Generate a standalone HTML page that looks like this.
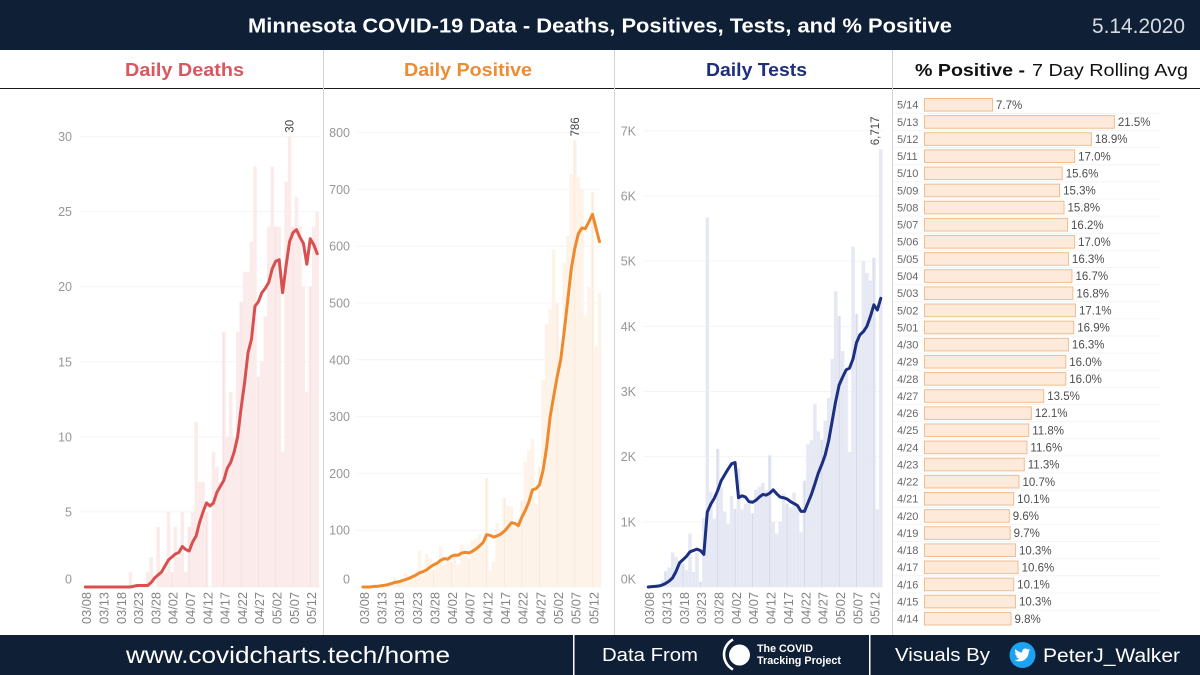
<!DOCTYPE html>
<html lang="en">
<head>
<meta charset="utf-8">
<title>Minnesota COVID-19 Data</title>
<style>
html,body{margin:0;padding:0;width:1200px;height:675px;overflow:hidden;background:#fff;}
svg{display:block;font-family:"Liberation Sans",sans-serif;}
</style>
</head>
<body>
<svg id="root" width="1200" height="675" viewBox="0 0 1200 675" xmlns="http://www.w3.org/2000/svg">
  <rect x="0" y="0" width="1200" height="675" fill="#ffffff"/>
  <g id="charts"></g>
  <rect x="0" y="0" width="1200" height="50" fill="#0e1f36"/>
  <text x="248" y="32.500" font-size="20" font-weight="bold" fill="#ffffff" textLength="704" lengthAdjust="spacingAndGlyphs">Minnesota COVID-19 Data - Deaths, Positives, Tests, and % Positive</text>
  <text x="1092" y="33" font-size="21" fill="#d8dce2" textLength="93" lengthAdjust="spacingAndGlyphs">5.14.2020</text>

  <text x="125" y="76" font-size="18" font-weight="bold" fill="#d9585f" textLength="119" lengthAdjust="spacingAndGlyphs">Daily Deaths</text>
  <text x="404" y="76" font-size="18" font-weight="bold" fill="#ee8c36" textLength="128" lengthAdjust="spacingAndGlyphs">Daily Positive</text>
  <text x="706" y="76" font-size="18" font-weight="bold" fill="#1e2f7f" textLength="101" lengthAdjust="spacingAndGlyphs">Daily Tests</text>
  <text x="915" y="76" font-size="17.5" font-weight="bold" fill="#111111" textLength="110" lengthAdjust="spacingAndGlyphs">% Positive -</text>
  <text x="1032" y="76" font-size="17.5" fill="#111111" textLength="156" lengthAdjust="spacingAndGlyphs">7 Day Rolling Avg</text>
  <rect x="0" y="88" width="1200" height="1" fill="#1a1a1a"/>
  <rect x="323" y="50" width="1" height="585" fill="#d4d4d4"/>
  <rect x="614" y="50" width="1" height="585" fill="#d4d4d4"/>
  <rect x="892" y="50" width="1" height="585" fill="#d4d4d4"/>

  <rect x="0" y="635" width="1200" height="40" fill="#0e1f36"/>
  <text x="126" y="663" font-size="23" fill="#ffffff" textLength="324" lengthAdjust="spacingAndGlyphs">www.covidcharts.tech/home</text>
  <rect x="573" y="635" width="1.5" height="40" fill="#ffffff"/>
  <text x="602" y="661" font-size="18" fill="#ffffff" textLength="96" lengthAdjust="spacingAndGlyphs">Data From</text>
  <g>
    <path d="M733 639.500 A17 17 0 0 0 733 669.500" fill="none" stroke="#ffffff" stroke-width="2.600"/>
    <circle cx="739.500" cy="655" r="10.500" fill="#ffffff"/>
    <text x="757" y="652" font-size="11" font-weight="bold" fill="#ffffff" textLength="56" lengthAdjust="spacingAndGlyphs">The COVID</text>
    <text x="757" y="664" font-size="11" font-weight="bold" fill="#ffffff" textLength="84" lengthAdjust="spacingAndGlyphs">Tracking Project</text>
  </g>
  <rect x="869" y="635" width="1.5" height="40" fill="#ffffff"/>
  <text x="895" y="661" font-size="18" fill="#ffffff" textLength="95" lengthAdjust="spacingAndGlyphs">Visuals By</text>
  <g>
    <circle cx="1022.500" cy="655" r="13" fill="#1da1f2"/>
    <path transform="translate(1014 646.500) scale(0.71)" fill="#ffffff" d="M23 4.900c-.8.4-1.700.6-2.600.7.9-.6 1.600-1.400 2-2.500-.9.5-1.900.9-2.900 1.100C18.600 3.300 17.400 2.800 16.100 2.800c-2.500 0-4.600 2-4.600 4.600 0 .4 0 .7.1 1C7.700 8.200 4.400 6.400 2.100 3.600c-.4.7-.6 1.500-.6 2.300 0 1.600.8 3 2 3.800-.7 0-1.400-.2-2.100-.6v.1c0 2.200 1.600 4.100 3.700 4.500-.4.1-.8.2-1.200.2-.3 0-.6 0-.9-.1.6 1.800 2.300 3.200 4.300 3.200-1.600 1.200-3.600 2-5.700 2-.4 0-.7 0-1.100-.1 2 1.300 4.500 2 7.100 2 8.500 0 13.100-7 13.100-13.100v-.6c.9-.6 1.700-1.500 2.300-2.400z"/>
  </g>
  <text x="1043" y="662" font-size="19" fill="#ffffff" textLength="137" lengthAdjust="spacingAndGlyphs">PeterJ_Walker</text>
</svg>
<script>
// X-axis tick labels, one every 5 days starting 03/08
const dateTickLabels = ['03/08','03/13','03/18','03/23','03/28','04/02','04/07','04/12','04/17','04/22','04/27','05/02','05/07','05/12'];
const dateTickStep = 5;

// Daily deaths (bars) and 7-day average (line), 03/08 .. 05/14
const deathsDaily = [0,0,0,0,0,0,0,0,0,0,0,0,0,1,0,0,0,0,1,2,0,4,1,1,5,1,4,2,5,1,4,5,11,7,7,5,0,9,8,7,17,10,13,10,17,19,21,21,23,28,14,15,18,24,28,24,24,9,27,30,24,26,24,20,13,20,24,25];
const deathsAvg = [0,0,0,0,0,0,0,0,0,0,0,0,0,0,0.05,0.1,0.1,0.1,0.1,0.3,0.6,0.8,1,1.4,1.8,2,2.2,2.3,2.7,2.5,2.4,3,3.4,4.3,5,5.6,5.4,5.6,6.3,6.7,7.1,7.9,8.3,9,10,11.9,13.6,15.6,16.5,18.7,19,19.6,19.9,20.3,21.2,21.7,21.8,19.6,21.4,23,23.6,23.8,23.3,22.9,21.5,23.2,22.8,22.2];
const deathsTicks = [0,5,10,15,20,25,30];
const deathsTickLabels = ['0','5','10','15','20','25','30'];

// Daily positive (bars) and 7-day average (line)
const positiveDaily = [1,0,1,0,2,2,3,5,7,18,12,14,25,20,22,25,64,20,58,50,30,40,72,40,55,45,60,40,75,55,50,82,85,93,70,192,29,44,113,100,157,143,142,105,120,152,220,242,260,147,212,364,463,490,594,500,400,570,618,727,786,722,700,478,528,695,423,518];
const positiveAvg = [0,0,0,1,1,2,3,4,6,8,9,11,13,15,18,21,25,27,30,35,39,42,47,50,49,54,56,56,60,61,60,63,67,72,78,92,91,88,90,93,98,105,113,112,108,123,135,150,171,173,180,205,245,299,335,370,400,450,505,560,596,622,632,631,643,656,632,608];
const positiveTicks = [0,100,200,300,400,500,600,700,800];
const positiveTickLabels = ['0','100','200','300','400','500','600','700','800'];

// Daily tests (bars) and 7-day average (line)
const testsDaily = [5,10,20,40,100,240,300,530,460,400,360,260,820,230,530,80,1060,5670,1460,1050,2120,1530,1160,970,1400,1200,1820,1190,1280,1280,1130,1490,1540,1600,1480,2020,1000,820,1000,1430,1280,1220,1450,1260,840,1630,2190,2250,2810,2390,2260,2550,2900,3500,4540,4160,3620,3300,2070,5220,4190,3800,5000,4820,4700,5050,1190,6717];
const testsAvg = [0,5,10,15,30,55,90,140,240,370,420,470,540,560,580,560,500,1150,1270,1360,1480,1630,1720,1810,1890,1910,1370,1400,1380,1310,1300,1330,1380,1420,1410,1440,1490,1430,1380,1370,1350,1310,1280,1250,1160,1160,1290,1420,1580,1750,1880,2030,2250,2550,2850,3100,3220,3330,3360,3500,3750,3870,3920,4000,4150,4330,4250,4430];
const testsTicks = [0,1000,2000,3000,4000,5000,6000,7000];
const testsTickLabels = ['0K','1K','2K','3K','4K','5K','6K','7K'];

// Percent positive, 7-day rolling average
const percentDates = ['5/14','5/13','5/12','5/11','5/10','5/09','5/08','5/07','5/06','5/05','5/04','5/03','5/02','5/01','4/30','4/29','4/28','4/27','4/26','4/25','4/24','4/23','4/22','4/21','4/20','4/19','4/18','4/17','4/16','4/15','4/14'];
const percentValues = [7.7,21.5,18.9,17.0,15.6,15.3,15.8,16.2,17.0,16.3,16.7,16.8,17.1,16.9,16.3,16.0,16.0,13.5,12.1,11.8,11.6,11.3,10.7,10.1,9.6,9.7,10.3,10.6,10.1,10.3,9.8];

const NS = 'http://www.w3.org/2000/svg';
const charts = document.getElementById('charts');
function el(tag, parent, attrs, text) {
  const e = document.createElementNS(NS, tag);
  for (const k in attrs) e.setAttribute(k, attrs[k]);
  if (text !== undefined) e.textContent = text;
  parent.appendChild(e);
  return e;
}

function drawPanel(name, bars, avg, ticks, tickLabels, o) {
  const g = el('g', charts, {});
  
  
  const maxTick = ticks[ticks.length - 1];
  const yScale = v => o.y0 - (o.y0 - o.yTop) * v / maxTick;
  const xScale = i => o.x0 + o.w * i;

  ticks.forEach((t, i) => {
    const line = el('line', g, {x1: o.gridL, x2: o.gridR, y1: yScale(t), y2: yScale(t), stroke: '#f4f4f4', 'stroke-width': 1});
    
    
    const ly = t === 0 ? o.y0 - 8 : yScale(t);
    const label = el('text', g, {x: o.labelX, y: ly + 4.5, 'text-anchor': 'end', 'font-size': 12.5, fill: '#979797'}, tickLabels[i]);
    
    
  });

  let maxIdx = 0;
  bars.forEach((v, i) => {
    if (v > bars[maxIdx]) maxIdx = i;
    const top = yScale(v);
    const bar = el('rect', g, {x: xScale(i) - o.w / 2, y: top, width: o.w + 0.05, height: Math.max(0, o.y0 - top), fill: o.barFill});
    
    
  });

  dateTickLabels.forEach((lab, i) => {
    const idx = i * dateTickStep;
    const tx = xScale(idx) + 1.8;
    const tl = el('line', g, {x1: tx - 1.8, x2: tx - 1.8, y1: yScale(bars[idx]), y2: o.y0, stroke: o.tickFill, 'stroke-width': 0.7});
    
    
    const t = el('text', g, {x: 0, y: 0, transform: 'translate(' + (tx + 4) + ' 624) rotate(-90)', 'font-size': 12.5, fill: '#858585', textLength: 32, lengthAdjust: 'spacingAndGlyphs'}, lab);
    
    
  });

  const d = avg.map((v, i) => (i ? 'L' : 'M') + xScale(i).toFixed(2) + ' ' + yScale(v).toFixed(2)).join(' ');
  const path = el('path', g, {d: d, fill: 'none', stroke: o.lineColor, 'stroke-width': 3, 'stroke-linejoin': 'round', 'stroke-linecap': 'round'});
  
  

  const px = Math.min(xScale(maxIdx), o.labelMaxX);
  const py = yScale(bars[maxIdx]) - 4;
  const peak = el('text', g, {x: 0, y: 0, transform: 'translate(' + (px + 4) + ' ' + py + ') rotate(-90)', 'font-size': 11.5, fill: '#444444'}, bars[maxIdx].toLocaleString('en-US'));
  
  
}

drawPanel('deaths', deathsDaily, deathsAvg, deathsTicks, deathsTickLabels,
  {x0: 85.4, w: 3.46, y0: 587, yTop: 136.6, gridL: 80, gridR: 320, labelX: 72, barFill: '#fbebeb', tickFill: '#f5dede', lineColor: '#d9504f', labelMaxX: 9999});
drawPanel('positive', positiveDaily, positiveAvg, positiveTicks, positiveTickLabels,
  {x0: 363, w: 3.53, y0: 587, yTop: 132.6, gridL: 357, gridR: 601, labelX: 350, barFill: '#fef3e9', tickFill: '#fae6d5', lineColor: '#ee8a2d', labelMaxX: 9999});
drawPanel('tests', testsDaily, testsAvg, testsTicks, testsTickLabels,
  {x0: 648.3, w: 3.47, y0: 587, yTop: 130.8, gridL: 643, gridR: 883, labelX: 636, barFill: '#e6e9f4', tickFill: '#d0d4e3', lineColor: '#1c2f80', labelMaxX: 875});

const pctGroup = el('g', charts, {});


const pctX = v => v * 8.83;
const pctRowY = i => 104.7 + i * 17.13;
percentValues.forEach((v, i) => {
  const cy = pctRowY(i);
  if (i < percentValues.length - 1) {
    const sep = el('line', pctGroup, {x1: 893, x2: 1160, y1: cy + 8.6, y2: cy + 8.6, stroke: '#f4f4f4', 'stroke-width': 1});
    
    
  }
  const dateLabel = el('text', pctGroup, {x: 897, y: cy + 4, 'font-size': 11, fill: '#666666'}, percentDates[i]);
  
  
  const bar = el('rect', pctGroup, {x: 924.5, y: cy - 6.2, width: pctX(v), height: 12.6, fill: '#fdeadb', stroke: '#f0bd90', 'stroke-width': 1});
  
  
  const valLabel = el('text', pctGroup, {x: 924.5 + pctX(v) + 3.5, y: cy + 4.2, 'font-size': 11.5, fill: '#4d4d4d'}, v.toFixed(1) + '%');
  
  
});
</script>
</body>
</html>
